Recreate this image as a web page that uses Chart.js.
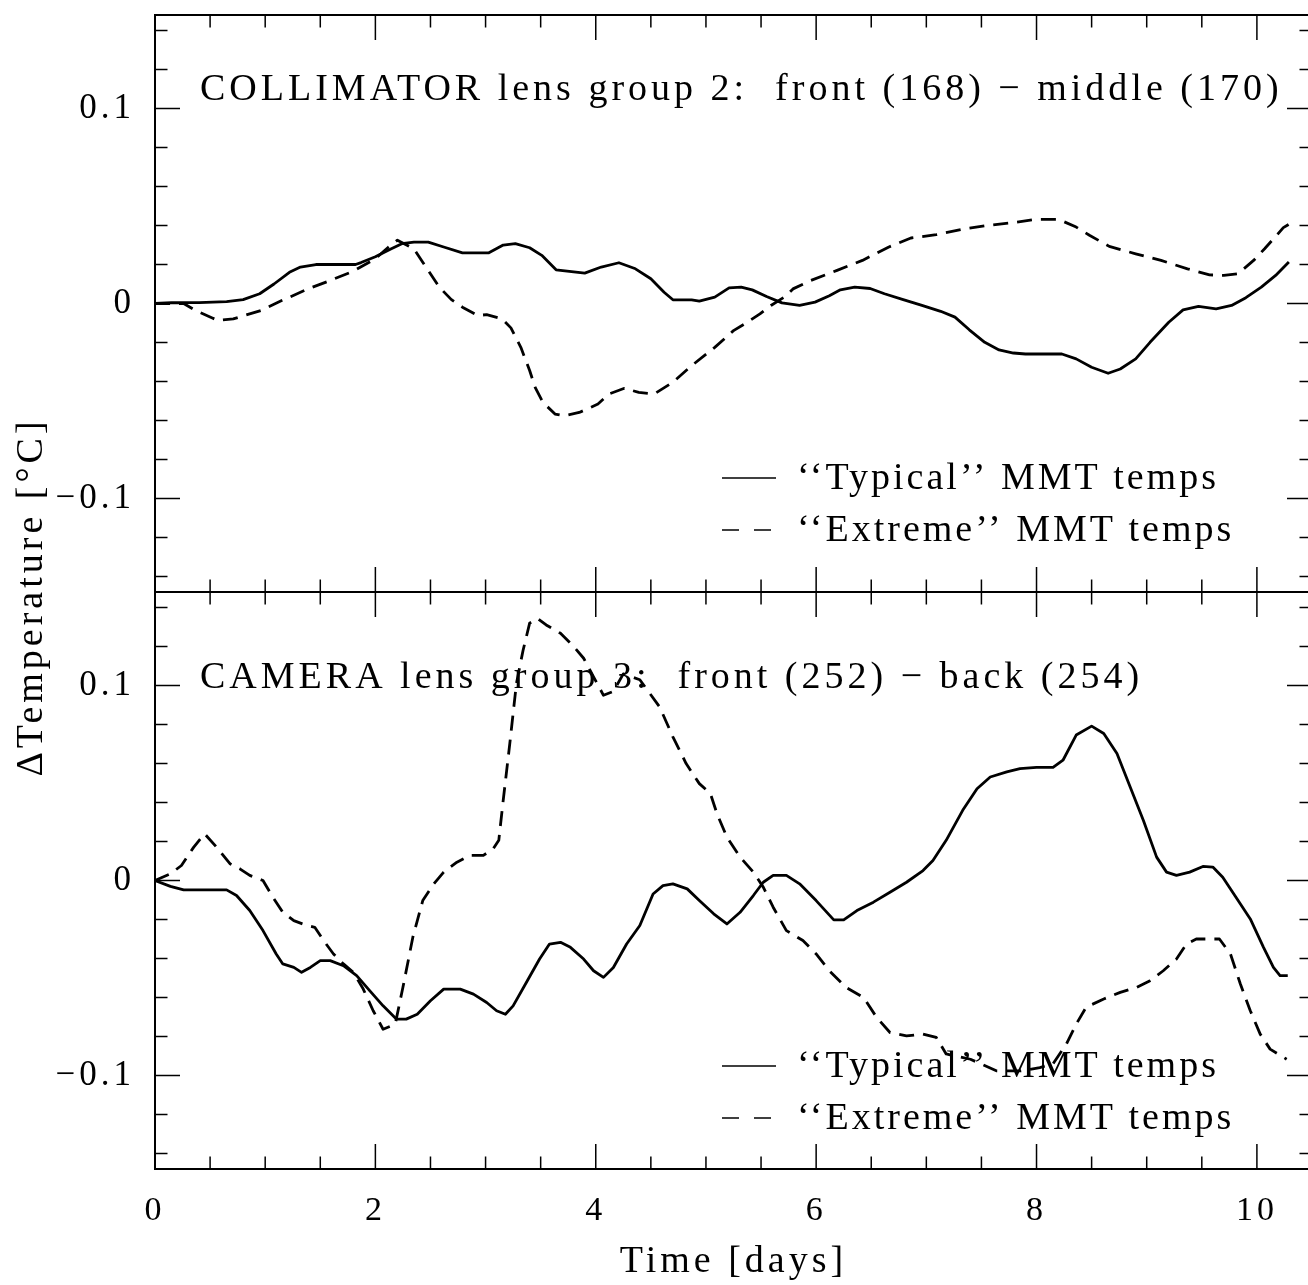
<!DOCTYPE html>
<html>
<head>
<meta charset="utf-8">
<title>Lens group temperature differences</title>
<script src="https://cdn.jsdelivr.net/npm/chart.js@4.4.1/dist/chart.umd.min.js"></script>
<style>
    html, body { margin: 0; padding: 0; background: #fff; overflow: hidden; }
    #wrap { position: relative; width: 1320px; height: 1285px; }
</style>
</head>
<body>
<div id="wrap"><canvas id="tempChart"></canvas></div>
<script>
// Ejes y rótulos
const xTicks = [0, 2, 4, 6, 8, 10];
const yTicks = [-0.1, 0, 0.1];
const xMinorStep = 0.5;
const yMinorStep = 0.02;
const xMax = 10.5;
const yLimit = 0.148;

const panelTitles = [
    'COLLIMATOR lens group 2:  front (168) − middle (170)',
    'CAMERA lens group 3:  front (252) − back (254)'
];
const seriesLabels = ['‘‘Typical’’ MMT temps', '‘‘Extreme’’ MMT temps'];
const xTitle = 'Time [days]';
const yTitle = 'ΔTemperature [°C]';

// Panel superior: colimador, "typical"
const collTypicalT = [0, 0.15, 0.4, 0.65, 0.8, 0.95, 1.08, 1.22, 1.32, 1.46,
    1.82, 1.87, 2.0, 2.14, 2.24, 2.35, 2.48, 2.62, 2.79, 3.03,
    3.16, 3.27, 3.40, 3.51, 3.64, 3.74, 3.90, 4.05, 4.21, 4.36,
    4.50, 4.62, 4.70, 4.87, 4.94, 5.08, 5.21, 5.32, 5.42, 5.55,
    5.69, 5.85, 5.99, 6.12, 6.22, 6.35, 6.49, 6.62, 6.79, 6.96,
    7.13, 7.26, 7.39, 7.53, 7.66, 7.79, 7.90, 8.23, 8.36, 8.50,
    8.65, 8.76, 8.90, 9.03, 9.20, 9.33, 9.47, 9.63, 9.77, 9.90,
    10.04, 10.17, 10.29];
const collTypicalV = [0, 0.0005, 0.0005, 0.001, 0.002, 0.005, 0.010, 0.016, 0.0187, 0.020,
    0.020, 0.021, 0.024, 0.028, 0.0307, 0.0315, 0.0315, 0.029, 0.026, 0.026,
    0.030, 0.0307, 0.0286, 0.0247, 0.0173, 0.0166, 0.0156, 0.0187, 0.0209, 0.0178,
    0.0127, 0.0058, 0.0019, 0.0019, 0.0012, 0.0033, 0.008, 0.0084, 0.007, 0.0036,
    0.0003, -0.001, 0.0007, 0.004, 0.007, 0.0084, 0.0077, 0.005, 0.002, -0.001,
    -0.004, -0.007, -0.0135, -0.0199, -0.0238, -0.0254, -0.0259, -0.0259, -0.0284, -0.0327,
    -0.0358, -0.0336, -0.0284, -0.0199, -0.0096, -0.0033, -0.0015, -0.0027, -0.001, 0.003,
    0.0084, 0.0144, 0.0213];

// Panel superior: colimador, "extreme"
const collExtremeT = [0, 0.26, 0.37, 0.52, 0.57, 0.71, 0.81, 0.96, 1.15, 1.39,
    1.59, 1.80, 2.0, 2.12, 2.2, 2.35, 2.43, 2.58, 2.69, 2.79,
    2.93, 3.01, 3.15, 3.23, 3.32, 3.40, 3.45, 3.52, 3.63, 3.71,
    3.85, 4.02, 4.12, 4.26, 4.39, 4.53, 4.70, 4.87, 5.08, 5.25,
    5.35, 5.49, 5.59, 5.72, 5.79, 5.95, 6.19, 6.42, 6.66, 6.86,
    7.09, 7.36, 7.56, 7.79, 7.99, 8.2, 8.36, 8.48, 8.66, 8.9,
    9.13, 9.37, 9.57, 9.7, 9.83, 9.97, 10.07, 10.17, 10.24, 10.3];
const collExtremeV = [0, 0, -0.0036, -0.0074, -0.0087, -0.0079, -0.0062, -0.0036, 0.0015, 0.0075,
    0.0118, 0.0166, 0.023, 0.029, 0.0325, 0.028, 0.0212, 0.0084, 0.002, -0.0019,
    -0.0062, -0.0057, -0.0079, -0.0125, -0.0225, -0.0344, -0.043, -0.0507, -0.0567, -0.0576,
    -0.0559, -0.0516, -0.0464, -0.0435, -0.0456, -0.0464, -0.0404, -0.0319, -0.0225, -0.0139,
    -0.0105, -0.0053, -0.001, 0.0036, 0.0075, 0.0118, 0.017, 0.0221, 0.029, 0.0336,
    0.0353, 0.0384, 0.0401, 0.0415, 0.0432, 0.0432, 0.0392, 0.035, 0.0293, 0.0255,
    0.0221, 0.0178, 0.0147, 0.0144, 0.0153, 0.0221, 0.0281, 0.0344, 0.0389, 0.041];

// Panel inferior: cámara, "typical"
const camTypicalT = [0, 0.14, 0.26, 0.65, 0.74, 0.86, 0.98, 1.10, 1.16, 1.26,
    1.33, 1.41, 1.50, 1.59, 1.71, 1.83, 1.95, 2.07, 2.19, 2.28,
    2.38, 2.50, 2.62, 2.77, 2.89, 3.01, 3.10, 3.18, 3.25, 3.37,
    3.49, 3.58, 3.68, 3.77, 3.89, 3.98, 4.07, 4.16, 4.28, 4.40,
    4.52, 4.61, 4.70, 4.83, 4.94, 5.07, 5.19, 5.31, 5.43, 5.52,
    5.61, 5.73, 5.85, 6.0, 6.16, 6.25, 6.37, 6.52, 6.67, 6.82,
    6.97, 7.06, 7.18, 7.33, 7.46, 7.58, 7.73, 7.85, 8.0, 8.15,
    8.24, 8.36, 8.50, 8.61, 8.73, 8.85, 8.97, 9.09, 9.18, 9.27,
    9.39, 9.51, 9.60, 9.69, 9.81, 9.94, 10.06, 10.15, 10.21, 10.28];
const camTypicalV = [0, -0.003, -0.0048, -0.0048, -0.0077, -0.0154, -0.0257, -0.0377, -0.0428, -0.0446,
    -0.0471, -0.0446, -0.0411, -0.0411, -0.0437, -0.0488, -0.0566, -0.0643, -0.0711, -0.0711,
    -0.0686, -0.0617, -0.0557, -0.0557, -0.0583, -0.0626, -0.0668, -0.0686, -0.0643, -0.0523,
    -0.0403, -0.0326, -0.0317, -0.0343, -0.0403, -0.0463, -0.0497, -0.0446, -0.0326, -0.0231,
    -0.0069, -0.0026, -0.0017, -0.0043, -0.0103, -0.0171, -0.0223, -0.0163, -0.0077, -0.0009,
    0.0026, 0.0026, -0.0017, -0.0103, -0.0202, -0.0202, -0.0154, -0.0111, -0.006, -0.0009,
    0.0051, 0.0103, 0.0206, 0.036, 0.0471, 0.0531, 0.0557, 0.0574, 0.058, 0.058,
    0.0617, 0.0746, 0.0792, 0.0754, 0.0651, 0.048, 0.0308, 0.012, 0.0043, 0.0026,
    0.0043, 0.0072, 0.0069, 0.0017, -0.0086, -0.0197, -0.0343, -0.0446, -0.0488, -0.0488];

// Panel inferior: cámara, "extreme"
const camExtremeT = [0, 0.14, 0.24, 0.35, 0.45, 0.56, 0.68, 0.77, 0.86, 0.98,
    1.07, 1.16, 1.26, 1.38, 1.45, 1.53, 1.62, 1.71, 1.80, 1.89,
    1.98, 2.07, 2.18, 2.25, 2.34, 2.43, 2.53, 2.62, 2.74, 2.86,
    2.98, 3.07, 3.12, 3.16, 3.22, 3.28, 3.34, 3.40, 3.47, 3.55,
    3.68, 3.80, 3.89, 3.98, 4.07, 4.16, 4.25, 4.40, 4.58, 4.70,
    4.82, 4.94, 5.04, 5.10, 5.19, 5.31, 5.43, 5.52, 5.61, 5.73,
    5.88, 6.0, 6.12, 6.27, 6.43, 6.55, 6.67, 6.82, 6.97, 7.09,
    7.18, 7.40, 7.64, 7.85, 8.03, 8.15, 8.27, 8.36, 8.45, 8.61,
    8.76, 8.91, 9.03, 9.15, 9.27, 9.36, 9.45, 9.66, 9.76, 9.85,
    9.94, 10.03, 10.12, 10.27];
const camExtremeV = [0, 0.0034, 0.0077, 0.017, 0.024, 0.017, 0.0086, 0.006, 0.0026, 0,
    -0.0086, -0.0163, -0.0206, -0.0231, -0.024, -0.0308, -0.0377, -0.0428, -0.0471, -0.0557,
    -0.0668, -0.0763, -0.0737, -0.0548, -0.0291, -0.0103, -0.0017, 0.0043, 0.0094, 0.0129,
    0.0129, 0.0163, 0.0206, 0.0411, 0.0703, 0.1011, 0.118, 0.132, 0.1345, 0.1311,
    0.1268, 0.12, 0.114, 0.1045, 0.095, 0.097, 0.106, 0.103, 0.089, 0.0737,
    0.06, 0.0497, 0.0446, 0.0343, 0.0223, 0.012, 0.0043, -0.0034, -0.0137, -0.0257,
    -0.0308, -0.0377, -0.0463, -0.0548, -0.06, -0.0703, -0.078, -0.0797, -0.0788, -0.0805,
    -0.089, -0.0917, -0.0977, -0.0977, -0.096, -0.094, -0.084, -0.0737, -0.065, -0.0608,
    -0.0574, -0.0548, -0.0514, -0.0463, -0.0403, -0.0326, -0.03, -0.03, -0.0377, -0.0531,
    -0.0668, -0.0788, -0.0865, -0.0917];

const FONT = '"Liberation Serif", "Times New Roman", serif';
const DASH = [15, 9];

function toPoints(ts, vs) {
    return ts.map((t, i) => ({ x: t, y: vs[i] }));
}

function lineDataset(label, ts, vs, axis, dash) {
    return {
        label: label,
        data: toPoints(ts, vs),
        yAxisID: axis,
        borderColor: '#000',
        borderWidth: 2.8,
        borderDash: dash,
        borderJoinStyle: 'round',
        pointRadius: 0,
        tension: 0,
        fill: false
    };
}

function fmtY(v) {
    if (Math.abs(v) < 1e-9) return '0';
    return v.toFixed(1).replace('-', '−');
}

/**
 * Escala de un panel; los dos paneles se apilan en el lado izquierdo
 */
function panelScale(weight) {
    return {
        type: 'linear',
        position: 'left',
        stack: 'panels',
        stackWeight: 1,
        weight: weight,
        min: -yLimit,
        max: yLimit,
        grid: { display: false, drawTicks: false },
        border: { display: false },
        afterBuildTicks: s => { s.ticks = yTicks.map(v => ({ value: v })); },
        afterFit: s => { s.width = 155; s.paddingTop = 0; s.paddingBottom = 0; },
        ticks: {
            color: '#000',
            padding: 20,
            font: { family: FONT, size: 35 },
            callback: v => fmtY(v)
        }
    };
}

/**
 * Marco, marcas hacia dentro, títulos de panel y leyendas
 */
const panelDecor = {
    id: 'panelDecor',
    beforeDraw(chart) {
        chart.ctx.letterSpacing = '4px';
    },
    afterDatasetsDraw(chart, args, opts) {
        const ctx = chart.ctx;
        const xs = chart.scales.x;
        const panels = ['yTop', 'yBot'];

        panels.forEach((id, p) => {
            const ys = chart.scales[id];
            ctx.save();
            ctx.strokeStyle = '#000';
            ctx.lineWidth = 2;
            ctx.strokeRect(xs.left, ys.top, xs.right - xs.left, ys.bottom - ys.top);

            ctx.lineWidth = 1.5;
            ctx.beginPath();
            for (let i = 1; i * xMinorStep < xMax; i++) {
                const v = i * xMinorStep;
                const px = xs.getPixelForValue(v);
                const len = xTicks.includes(v) ? 25 : 12.5;
                ctx.moveTo(px, ys.bottom);
                ctx.lineTo(px, ys.bottom - len);
                ctx.moveTo(px, ys.top);
                ctx.lineTo(px, ys.top + len);
            }
            const n = Math.floor(yLimit / yMinorStep + 1e-9);
            for (let i = -n; i <= n; i++) {
                const v = i * yMinorStep;
                const py = ys.getPixelForValue(v);
                const len = (i % 5 === 0) ? 25 : 12.5;
                ctx.moveTo(xs.left, py);
                ctx.lineTo(xs.left + len, py);
                ctx.moveTo(xs.right, py);
                ctx.lineTo(xs.right - len, py);
            }
            ctx.stroke();

            // título del panel
            ctx.fillStyle = '#000';
            ctx.font = '38px ' + FONT;
            ctx.letterSpacing = '4px';
            ctx.textAlign = 'left';
            ctx.textBaseline = 'alphabetic';
            ctx.fillText(panelTitles[p], opts.titles[p].x, opts.titles[p].y);

            // leyenda
            const lg = opts.legends[p];
            ctx.letterSpacing = '3px';
            chart.data.datasets.filter(d => d.yAxisID === id).forEach((d, r) => {
                const ly = lg.y + r * lg.rowGap;
                ctx.lineWidth = 1.5;
                ctx.setLineDash(d.borderDash.length ? [17, 15] : []);
                ctx.beginPath();
                ctx.moveTo(lg.x, ly);
                ctx.lineTo(lg.x + lg.sample, ly);
                ctx.stroke();
                ctx.setLineDash([]);
                ctx.fillText(d.label, lg.textX, ly + 11);
            });
            ctx.restore();
        });

        // título del eje y, común a los dos paneles
        ctx.save();
        ctx.fillStyle = '#000';
        ctx.font = '38px ' + FONT;
        ctx.letterSpacing = '4px';
        ctx.translate(opts.yTitle.x, opts.yTitle.y);
        ctx.rotate(-Math.PI / 2);
        ctx.textAlign = 'center';
        ctx.textBaseline = 'alphabetic';
        ctx.fillText(yTitle, 0, 0);
        ctx.restore();
    }
};

const tempChart = new Chart(document.getElementById('tempChart').getContext('2d'), {
    type: 'line',
    data: {
        datasets: [
            lineDataset(seriesLabels[0], collTypicalT, collTypicalV, 'yTop', []),
            lineDataset(seriesLabels[1], collExtremeT, collExtremeV, 'yTop', DASH),
            lineDataset(seriesLabels[0], camTypicalT, camTypicalV, 'yBot', []),
            lineDataset(seriesLabels[1], camExtremeT, camExtremeV, 'yBot', DASH)
        ]
    },
    options: {
        responsive: true,
        maintainAspectRatio: false,
        animation: false,
        events: [],
        layout: { padding: { top: 15, right: 8, left: 0, bottom: 0 } },
        plugins: {
            legend: { display: false },
            tooltip: { enabled: false },
            panelDecor: {
                titles: [{ x: 200, y: 100 }, { x: 200, y: 688 }],
                legends: [
                    { x: 722, y: 478, sample: 54, textX: 797, rowGap: 52 },
                    { x: 722, y: 1066, sample: 54, textX: 797, rowGap: 52 }
                ],
                yTitle: { x: 42, y: 597 }
            }
        },
        scales: {
            x: {
                type: 'linear',
                position: 'bottom',
                min: 0,
                max: xMax,
                grid: { display: false, drawTicks: false },
                border: { display: false },
                afterBuildTicks: s => { s.ticks = xTicks.map(v => ({ value: v })); },
                afterFit: s => { s.height = 116; s.paddingLeft = 0; s.paddingRight = 0; },
                ticks: {
                    color: '#000',
                    padding: 22,
                    maxRotation: 0,
                    autoSkip: false,
                    font: { family: FONT, size: 34 },
                    callback: v => String(v)
                },
                title: {
                    display: true,
                    text: xTitle,
                    color: '#000',
                    font: { family: FONT, size: 38 },
                    padding: { top: 0, bottom: 0 }
                }
            },
            yBot: panelScale(1),
            yTop: panelScale(2)
        }
    },
    plugins: [panelDecor]
});
</script>
</body>
</html>
